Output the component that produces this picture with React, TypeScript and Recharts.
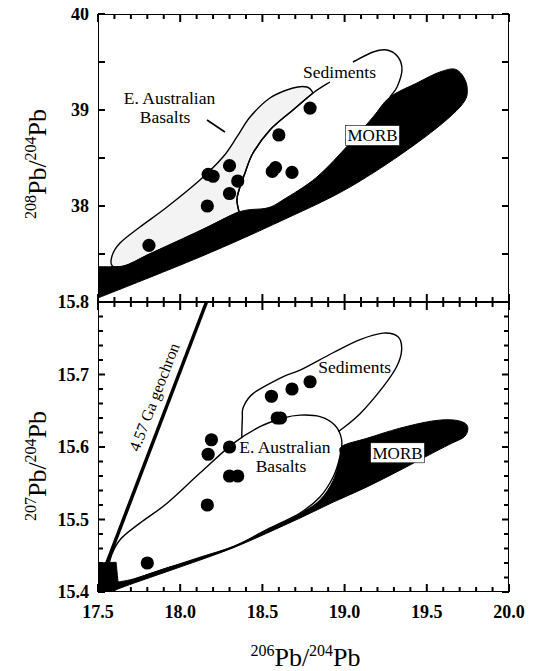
import React from 'react';
import { ScatterChart, Scatter, XAxis, YAxis, ReferenceLine } from 'recharts';

const FONT = "'Liberation Serif', 'Times New Roman', serif";

// axis ticks
const xTicks = [
  17.5, 17.6, 17.7, 17.8, 17.9, 18.0, 18.1, 18.2, 18.3, 18.4, 18.5, 18.6, 18.7,
  18.8, 18.9, 19.0, 19.1, 19.2, 19.3, 19.4, 19.5, 19.6, 19.7, 19.8, 19.9, 20.0,
];
const xTickLabels = [17.5, 18.0, 18.5, 19.0, 19.5, 20.0];
const topYTicks = [37, 37.5, 38, 38.5, 39, 39.5, 40];
const topYTickLabels = [38, 39, 40];
const botYTicks = [
  15.4, 15.42, 15.44, 15.46, 15.48, 15.5, 15.52, 15.54, 15.56, 15.58, 15.6,
  15.62, 15.64, 15.66, 15.68, 15.7, 15.72, 15.74, 15.76, 15.78, 15.8,
];
const botYTickLabels = [15.4, 15.5, 15.6, 15.7, 15.8];

// samples, 208Pb/204Pb vs 206Pb/204Pb
const topPoints = [
  { x: 17.81, y: 37.59 },
  { x: 18.17, y: 38.33 },
  { x: 18.2, y: 38.31 },
  { x: 18.165, y: 38.0 },
  { x: 18.3, y: 38.42 },
  { x: 18.35, y: 38.26 },
  { x: 18.3, y: 38.13 },
  { x: 18.6, y: 38.74 },
  { x: 18.58, y: 38.4 },
  { x: 18.56, y: 38.36 },
  { x: 18.68, y: 38.35 },
  { x: 18.79, y: 39.02 },
];

// samples, 207Pb/204Pb vs 206Pb/204Pb
const botPoints = [
  { x: 17.8, y: 15.44 },
  { x: 18.165, y: 15.52 },
  { x: 18.17, y: 15.59 },
  { x: 18.19, y: 15.61 },
  { x: 18.3, y: 15.6 },
  { x: 18.3, y: 15.56 },
  { x: 18.35, y: 15.56 },
  { x: 18.59, y: 15.64 },
  { x: 18.61, y: 15.64 },
  { x: 18.555, y: 15.67 },
  { x: 18.68, y: 15.68 },
  { x: 18.79, y: 15.69 },
];

// panel frames
const topFrame = [
  { x: 17.5, y: 37 }, { x: 20, y: 37 }, { x: 20, y: 40 }, { x: 17.5, y: 40 },
];
const botFrame = [
  { x: 17.5, y: 15.4 }, { x: 20, y: 15.4 }, { x: 20, y: 15.8 }, { x: 17.5, y: 15.8 },
];

// fields, upper panel (c marks a sharp corner)
const topBasalt = [
  { x: 17.591, y: 37.368 }, { x: 17.585, y: 37.479 }, { x: 17.634, y: 37.615 },
  { x: 17.755, y: 37.781 }, { x: 17.92, y: 37.99 }, { x: 18.12, y: 38.271 },
  { x: 18.26, y: 38.51 }, { x: 18.345, y: 38.719 }, { x: 18.425, y: 38.927 },
  { x: 18.546, y: 39.125 }, { x: 18.686, y: 39.229 }, { x: 18.771, y: 39.24 },
  { x: 18.808, y: 39.177, c: 1 }, { x: 18.686, y: 39.0 }, { x: 18.546, y: 38.792 },
  { x: 18.443, y: 38.552 }, { x: 18.394, y: 38.344 }, { x: 18.358, y: 38.167 },
  { x: 18.345, y: 38.063 }, { x: 18.358, y: 37.938, c: 1 }, { x: 18.12, y: 37.74 },
  { x: 17.816, y: 37.5 }, { x: 17.676, y: 37.385 },
];
const topMorb = [
  { x: 17.5, y: 37.368, c: 1 }, { x: 17.591, y: 37.368 }, { x: 17.676, y: 37.385 },
  { x: 17.816, y: 37.5 }, { x: 18.12, y: 37.74 }, { x: 18.358, y: 37.938 },
  { x: 18.528, y: 37.979 }, { x: 18.625, y: 38.063 }, { x: 18.832, y: 38.302 },
  { x: 19.033, y: 38.656 }, { x: 19.173, y: 38.927 }, { x: 19.276, y: 39.135 },
  { x: 19.44, y: 39.281 }, { x: 19.58, y: 39.396 }, { x: 19.684, y: 39.417 },
  { x: 19.745, y: 39.24 }, { x: 19.702, y: 39.031 }, { x: 19.44, y: 38.656 },
  { x: 19.033, y: 38.198 }, { x: 18.625, y: 37.854 }, { x: 18.12, y: 37.469 },
  { x: 17.5, y: 37.042, c: 1 },
];
const topSedLeft = [
  { x: 18.358, y: 37.938 }, { x: 18.345, y: 38.063 }, { x: 18.358, y: 38.167 },
  { x: 18.394, y: 38.344 }, { x: 18.443, y: 38.552 }, { x: 18.546, y: 38.792 },
  { x: 18.686, y: 39.0 }, { x: 18.808, y: 39.177 }, { x: 18.911, y: 39.292 },
];
const topSedTop = [
  { x: 19.051, y: 39.5 }, { x: 19.173, y: 39.604 }, { x: 19.258, y: 39.625 },
  { x: 19.325, y: 39.552 }, { x: 19.349, y: 39.417 }, { x: 19.319, y: 39.24 },
  { x: 19.276, y: 39.135 },
];
const topLeader = [
  { x: 18.163, y: 38.896 },
  { x: 18.272, y: 38.771 },
];

// fields, lower panel
const botBasalt = [
  { x: 17.573, y: 15.421 }, { x: 17.573, y: 15.444 }, { x: 17.634, y: 15.472 },
  { x: 17.755, y: 15.495 }, { x: 17.918, y: 15.522 }, { x: 18.12, y: 15.564 },
  { x: 18.323, y: 15.605 }, { x: 18.485, y: 15.628 }, { x: 18.627, y: 15.64 },
  { x: 18.729, y: 15.644 }, { x: 18.85, y: 15.642 }, { x: 18.941, y: 15.63 },
  { x: 18.982, y: 15.61 }, { x: 18.972, y: 15.587 }, { x: 18.931, y: 15.559 },
  { x: 18.85, y: 15.531 }, { x: 18.729, y: 15.509 }, { x: 18.526, y: 15.486 },
  { x: 18.323, y: 15.462 }, { x: 18.12, y: 15.446 }, { x: 17.918, y: 15.433 },
  { x: 17.715, y: 15.417 }, { x: 17.614, y: 15.408 },
];
const botMorb = [
  { x: 17.5, y: 15.44, c: 1 }, { x: 17.61, y: 15.441, c: 1 }, { x: 17.622, y: 15.414, c: 1 },
  { x: 17.715, y: 15.418 }, { x: 17.918, y: 15.433 }, { x: 18.12, y: 15.448 },
  { x: 18.323, y: 15.463 }, { x: 18.526, y: 15.485 }, { x: 18.729, y: 15.508 },
  { x: 18.85, y: 15.527 }, { x: 18.931, y: 15.554 }, { x: 18.972, y: 15.586 },
  { x: 18.984, y: 15.601 }, { x: 19.136, y: 15.612 }, { x: 19.337, y: 15.626 },
  { x: 19.538, y: 15.636 }, { x: 19.672, y: 15.637 }, { x: 19.745, y: 15.63 },
  { x: 19.732, y: 15.615 }, { x: 19.641, y: 15.604 }, { x: 19.538, y: 15.592 },
  { x: 19.337, y: 15.568 }, { x: 19.136, y: 15.545 }, { x: 18.931, y: 15.524 },
  { x: 18.729, y: 15.502 }, { x: 18.526, y: 15.481 }, { x: 18.323, y: 15.461 },
  { x: 18.12, y: 15.444 }, { x: 17.918, y: 15.428 }, { x: 17.715, y: 15.412 },
  { x: 17.573, y: 15.4, c: 1 }, { x: 17.5, y: 15.4, c: 1 },
];
const botSed = [
  { x: 18.374, y: 15.612 }, { x: 18.378, y: 15.64 }, { x: 18.384, y: 15.655 },
  { x: 18.445, y: 15.674 }, { x: 18.627, y: 15.697 }, { x: 18.729, y: 15.706 },
  { x: 18.93, y: 15.73 }, { x: 19.094, y: 15.748 }, { x: 19.234, y: 15.757 },
  { x: 19.325, y: 15.752 }, { x: 19.347, y: 15.734 }, { x: 19.317, y: 15.711 },
  { x: 19.234, y: 15.683 }, { x: 19.094, y: 15.646 }, { x: 18.962, y: 15.621 },
];
const geochron = [
  { x: 17.52, y: 15.42 },
  { x: 18.16, y: 15.8 },
];

// text labels
const topLabels = [
  { x: 18.969, y: 39.333, text: 'Sediments' },
  { x: 17.935, y: 39.058, text: 'E. Australian' },
  { x: 17.908, y: 38.86, text: 'Basalts' },
];
const topMorbLabel = [{ x: 19.17, y: 38.734, text: 'MORB' }];
const botLabels = [
  { x: 19.061, y: 15.702, text: 'Sediments' },
  { x: 18.637, y: 15.592, text: 'E. Australian' },
  { x: 18.613, y: 15.565, text: 'Basalts' },
];
const botMorbLabel = [{ x: 19.322, y: 15.592, text: 'MORB' }];
const geochronLabel = [{ x: 17.841, y: 15.669, text: '4.57 Ga geochron' }];

const CHART_W = 540;
const PLOT_W = 411;
const TOP_H = 288;
const BOT_H = 290;

const has = (list: number[], v: number) => list.some((t) => Math.abs(t - v) < 1e-6);

// tick mark segments in data units (length given in px, turned into axis units)
const xMarkSegs = (yMin: number, yMax: number, plotH: number) => {
  const perPx = (yMax - yMin) / plotH;
  const out: any[] = [];
  xTicks.forEach((v) => {
    const len = (has(xTickLabels, v) ? 8 : 5) * perPx;
    out.push([{ x: v, y: yMin }, { x: v, y: yMin + len }]);
    out.push([{ x: v, y: yMax }, { x: v, y: yMax - len }]);
  });
  return out;
};
const yMarkSegs = (ticks: number[], majors: number[]) => {
  const perPx = 2.5 / PLOT_W;
  const out: any[] = [];
  ticks.forEach((v) => {
    const len = (has(majors, v) ? 7 : 5) * perPx;
    out.push([{ x: 17.5, y: v }, { x: 17.5 + len, y: v }]);
    out.push([{ x: 20, y: v }, { x: 20 - len, y: v }]);
  });
  return out;
};

const topMarks = [...xMarkSegs(37, 40, TOP_H), ...yMarkSegs(topYTicks, topYTicks)];
const botMarks = [...xMarkSegs(15.4, 15.8, BOT_H), ...yMarkSegs(botYTicks, botYTickLabels)];

// catmull-rom through the points, straight next to corners
const smoothPath = (pts: any[], data: any[], closed: boolean) => {
  const n = pts.length;
  if (!n) return '';
  const idx = (i: number) => (closed ? (i + n) % n : Math.max(0, Math.min(n - 1, i)));
  const corner = (i: number) => !!(data[idx(i)] && data[idx(i)].c);
  let d = `M${pts[0].x},${pts[0].y}`;
  const segs = closed ? n : n - 1;
  for (let i = 0; i < segs; i++) {
    const p0 = pts[idx(i - 1)];
    const p1 = pts[idx(i)];
    const p2 = pts[idx(i + 1)];
    const p3 = pts[idx(i + 2)];
    const c1 = corner(i) ? p1 : { x: p1.x + (p2.x - p0.x) / 6, y: p1.y + (p2.y - p0.y) / 6 };
    const c2 = corner(i + 1) ? p2 : { x: p2.x - (p3.x - p1.x) / 6, y: p2.y - (p3.y - p1.y) / 6 };
    d += ` C${c1.x},${c1.y} ${c2.x},${c2.y} ${p2.x},${p2.y}`;
  }
  return closed ? d + ' Z' : d;
};

const fieldLine = (data: any[], fill: string, closed: boolean, width = 1.4) => (props: any) => (
  <path
    d={smoothPath(props.points || [], data, closed)}
    fill={fill}
    stroke="#000"
    strokeWidth={width}
    strokeLinejoin="round"
  />
);

const frameLine = (props: any) => {
  const pts = props.points || [];
  const d = pts.map((p: any, i: number) => `${i ? 'L' : 'M'}${p.x},${p.y}`).join('') + 'Z';
  return <path d={d} fill="none" stroke="#000" strokeWidth={2} />;
};

const noDot = () => <g />;
const blackDot = (p: any) => <circle cx={p.cx} cy={p.cy} r={6.6} fill="#000" />;

const plainText = (p: any) => (
  <text x={p.cx} y={p.cy} textAnchor="middle" fontFamily={FONT} fontSize={17.5} fill="#000">
    {p.payload.text}
  </text>
);

const boxedText = (p: any) => (
  <g>
    <rect x={p.cx - 27} y={p.cy - 10} width={54} height={20} fill="#fff" stroke="#000" strokeWidth={0.6} />
    <text x={p.cx} y={p.cy} dy="0.35em" textAnchor="middle" fontFamily={FONT} fontSize={17} fill="#000">
      {p.payload.text}
    </text>
  </g>
);

const slantedText = (p: any) => (
  <text
    transform={`translate(${p.cx},${p.cy}) rotate(-69)`}
    dy="0.35em"
    textAnchor="middle"
    fontFamily={FONT}
    fontSize={16}
    fill="#000"
  >
    {p.payload.text}
  </text>
);

const xLabelTick = (props: any) => {
  const { x, y, payload } = props;
  const v = payload.value;
  if (!has(xTickLabels, v)) return <g />;
  return (
    <text x={x} y={y + 26} textAnchor="middle" fontFamily={FONT} fontWeight="bold" fontSize={18} fill="#000">
      {v.toFixed(1)}
    </text>
  );
};

const makeYLabelTick = (labels: number[], digits: number) => (props: any) => {
  const { x, y, payload } = props;
  const v = payload.value;
  if (!has(labels, v)) return <g />;
  return (
    <text x={x - 9} y={y} dy="0.35em" textAnchor="end" fontFamily={FONT} fontWeight="bold" fontSize={18} fill="#000">
      {v.toFixed(digits)}
    </text>
  );
};

const ratio = (top: string, bottom: string) => [
  <tspan key="a" fontSize={16} dy={-10}>{top}</tspan>,
  <tspan key="b" fontSize={26} dy={10}>Pb/</tspan>,
  <tspan key="c" fontSize={16} dy={-10}>{bottom}</tspan>,
  <tspan key="d" fontSize={26} dy={10}>Pb</tspan>,
];

const yTitle = (iso: string, plotTop: number, plotH: number, shift: number) => (props: any) => {
  const vb = props && props.viewBox && props.viewBox.height ? props.viewBox : { x: 0, y: plotTop, height: plotH };
  const cx = vb.x + 38;
  const cy = vb.y + vb.height / 2 + shift;
  return (
    <text transform={`translate(${cx},${cy}) rotate(-90)`} textAnchor="middle" fontFamily={FONT} fill="#000">
      {ratio(iso, '204')}
    </text>
  );
};

const xTitle = (props: any) => {
  const vb = props && props.viewBox && props.viewBox.width ? props.viewBox : { x: 90, y: 300, width: PLOT_W };
  return (
    <text x={vb.x + vb.width / 2 + 2} y={vb.y + 74} textAnchor="middle" fontFamily={FONT} fill="#000">
      {ratio('206', '204')}
    </text>
  );
};

const topYTick = makeYLabelTick(topYTickLabels, 0);
const botYTick = makeYLabelTick(botYTickLabels, 1);

export default function App() {
  return (
    <div style={{ position: 'relative', width: CHART_W, height: 671, marginTop: -8 }}>
      <div style={{ position: 'absolute', left: 0, top: 0 }}>
        <ScatterChart width={CHART_W} height={308} margin={{ top: 14, right: 39, bottom: 0, left: 0 }}>
          <XAxis
            type="number"
            dataKey="x"
            domain={[17.5, 20]}
            allowDataOverflow
            ticks={xTicks}
            interval={0}
            height={6}
            tickSize={0}
            tickMargin={0}
            axisLine={false}
            tickLine={false}
            tick={false}
          />
          <YAxis
            type="number"
            dataKey="y"
            domain={[37, 40]}
            allowDataOverflow
            ticks={topYTicks}
            interval={0}
            width={90}
            tickSize={0}
            tickMargin={0}
            axisLine={false}
            tickLine={false}
            tick={topYTick}
            label={{ content: yTitle('208', 14, TOP_H, 6) }}
          />
          <Scatter data={topBasalt} line={fieldLine(topBasalt, '#f3f3f3', true)} shape={noDot} isAnimationActive={false} />
          <Scatter data={topMorb} line={fieldLine(topMorb, '#000', true, 1)} shape={noDot} isAnimationActive={false} />
          <Scatter data={topSedLeft} line={fieldLine(topSedLeft, 'none', false)} shape={noDot} isAnimationActive={false} />
          <Scatter data={topSedTop} line={fieldLine(topSedTop, 'none', false)} shape={noDot} isAnimationActive={false} />
          <Scatter data={topFrame} line={frameLine} shape={noDot} isAnimationActive={false} />
          {topMarks.map((seg, i) => (
            <ReferenceLine key={`tm${i}`} segment={seg} stroke="#000" strokeWidth={2} ifOverflow="visible" />
          ))}
          <ReferenceLine segment={topLeader} stroke="#000" strokeWidth={1.6} />
          <Scatter data={topPoints} shape={blackDot} isAnimationActive={false} />
          <Scatter data={topLabels} shape={plainText} isAnimationActive={false} />
          <Scatter data={topMorbLabel} shape={boxedText} isAnimationActive={false} />
        </ScatterChart>
      </div>
      <div style={{ position: 'absolute', left: 0, top: 292 }}>
        <ScatterChart width={CHART_W} height={379} margin={{ top: 10, right: 39, bottom: 0, left: 0 }}>
          <XAxis
            type="number"
            dataKey="x"
            domain={[17.5, 20]}
            allowDataOverflow
            ticks={xTicks}
            interval={0}
            height={79}
            tickSize={0}
            tickMargin={0}
            axisLine={false}
            tickLine={false}
            tick={xLabelTick}
            label={{ content: xTitle }}
          />
          <YAxis
            type="number"
            dataKey="y"
            domain={[15.4, 15.8]}
            allowDataOverflow
            ticks={botYTicks}
            interval={0}
            width={90}
            tickSize={0}
            tickMargin={0}
            axisLine={false}
            tickLine={false}
            tick={botYTick}
            label={{ content: yTitle('207', 10, BOT_H, 19) }}
          />
          <Scatter data={botBasalt} line={fieldLine(botBasalt, '#fff', true)} shape={noDot} isAnimationActive={false} />
          <Scatter data={botMorb} line={fieldLine(botMorb, '#000', true, 1)} shape={noDot} isAnimationActive={false} />
          <Scatter data={botSed} line={fieldLine(botSed, 'none', false)} shape={noDot} isAnimationActive={false} />
          <Scatter data={botFrame} line={frameLine} shape={noDot} isAnimationActive={false} />
          {botMarks.map((seg, i) => (
            <ReferenceLine key={`bm${i}`} segment={seg} stroke="#000" strokeWidth={2} ifOverflow="visible" />
          ))}
          <ReferenceLine segment={geochron} stroke="#000" strokeWidth={3.5} />
          <Scatter data={botPoints} shape={blackDot} isAnimationActive={false} />
          <Scatter data={botLabels} shape={plainText} isAnimationActive={false} />
          <Scatter data={botMorbLabel} shape={boxedText} isAnimationActive={false} />
          <Scatter data={geochronLabel} shape={slantedText} isAnimationActive={false} />
        </ScatterChart>
      </div>
    </div>
  );
}
